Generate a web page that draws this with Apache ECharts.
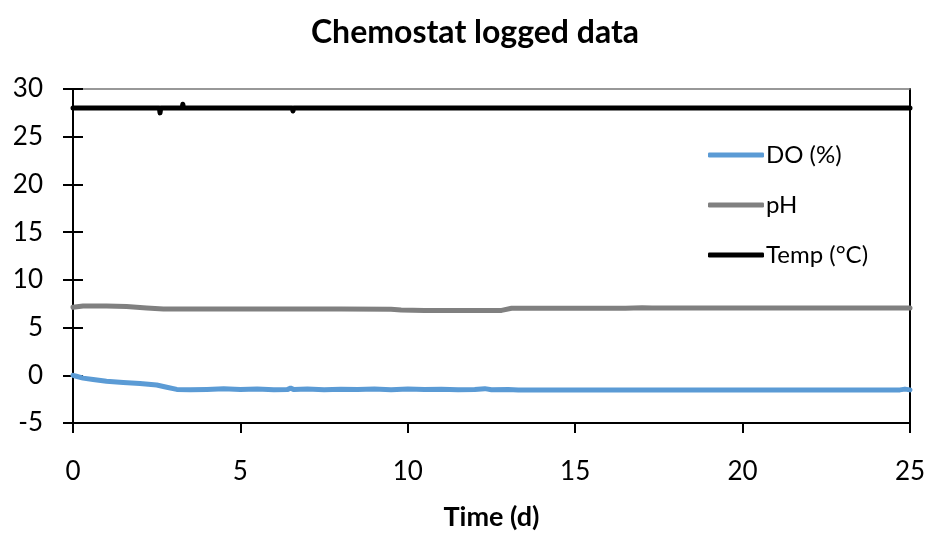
<!DOCTYPE html>
<html>
<head>
<meta charset="utf-8">
<script src="https://cdn.jsdelivr.net/npm/echarts@6/dist/echarts.min.js"></script>
<style>html,body{margin:0;padding:0;background:#fff}#c{width:932px;height:536px}</style>
</head>
<body>
<div id="c"></div>
<script>
var seriesNames = ['DO (%)', 'pH', 'Temp (°C)'];
var xTicks = [0, 5, 10, 15, 20, 25];
var yTicks = [-5, 0, 5, 10, 15, 20, 25, 30];

var doData = [
  [0, 0], [0.1, -0.1], [0.3, -0.3], [0.6, -0.45], [1.0, -0.62], [1.5, -0.75],
  [2.0, -0.85], [2.5, -1.02], [2.8, -1.25], [3.1, -1.48], [3.5, -1.52],
  [4.0, -1.48], [4.5, -1.42], [5.0, -1.5], [5.5, -1.45], [6.0, -1.52],
  [6.4, -1.5], [6.5, -1.35], [6.6, -1.5], [7.0, -1.45], [7.5, -1.52],
  [8.0, -1.47], [8.5, -1.5], [9.0, -1.45], [9.5, -1.52], [10.0, -1.45],
  [10.5, -1.5], [11.0, -1.47], [11.5, -1.52], [12.0, -1.48], [12.3, -1.4],
  [12.5, -1.52], [13.0, -1.48], [13.3, -1.53], [15, -1.53], [20, -1.53],
  [24.7, -1.53], [24.85, -1.45], [25, -1.53]
];
var phData = [
  [0, 7.12], [0.3, 7.25], [1.0, 7.25], [1.6, 7.2], [2.2, 7.05], [2.7, 6.95],
  [5, 6.95], [8, 6.95], [9.5, 6.93], [9.8, 6.85], [10.5, 6.8], [12.8, 6.8],
  [13.1, 7.02], [16.5, 7.02], [17.0, 7.08], [17.3, 7.05], [25, 7.05]
];
var tempData = [
  [0, 28.0], [1.49, 28.0], [1.5, 28.15], [1.51, 28.0], [2.58, 28.0],
  [2.6, 27.5], [2.62, 28.0], [3.26, 28.0], [3.28, 28.4], [3.3, 28.0],
  [6.55, 28.0], [6.57, 27.7], [6.59, 28.0], [25, 28.0]
];

var colors = ['#5B9BD5', '#808080', '#000000'];
var fontFam = 'Lato, "Open Sans", sans-serif';

var chart = echarts.init(document.getElementById('c'), null, {renderer: 'canvas'});
function mkSeries(name, data, color) {
  return {
    name: name, type: 'line', data: data, xAxisIndex: 0, yAxisIndex: 0,
    symbol: 'none', showSymbol: false, smooth: false,
    lineStyle: {color: color, width: 5, cap: 'round', join: 'round'},
    itemStyle: {color: color},
    z: 3
  };
}
var opt = {
  animation: false,
  backgroundColor: '#fff',
  title: {
    text: 'Chemostat logged data', left: 470, textAlign: 'center', top: 12,
    textStyle: {fontFamily: fontFam, fontWeight: 'bold', fontSize: 32, color: '#000'}
  },
  legend: {
    orient: 'vertical', left: 703, top: 138, itemWidth: 56, itemHeight: 5, itemGap: 26,
    icon: 'roundRect',
    data: seriesNames,
    textStyle: {fontFamily: fontFam, fontSize: 24, color: '#000', padding: [0, 0, 0, -3]}
  },
  grid: {left: 73, right: 22, top: 89, bottom: 106, containLabel: false},
  xAxis: [{
    type: 'value', position: 'bottom', min: xTicks[0], max: xTicks[xTicks.length - 1], interval: 5,
    axisLine: {show: true, onZero: false, lineStyle: {color: '#000', width: 2}},
    axisTick: {show: true, inside: false, length: 10, lineStyle: {color: '#000', width: 2}},
    axisLabel: {fontFamily: fontFam, fontSize: 26, color: '#000', margin: 36},
    splitLine: {show: false},
    name: 'Time (d)', nameLocation: 'middle', nameGap: 81,
    nameTextStyle: {fontFamily: fontFam, fontSize: 27, fontWeight: 'bold', color: '#000'}
  }, {
    type: 'value', position: 'top', min: 0, max: 25, interval: 5,
    axisLine: {show: true, onZero: false, lineStyle: {color: '#777', width: 1.5}},
    axisTick: {show: false}, axisLabel: {show: false}, splitLine: {show: false}
  }],
  yAxis: [{
    type: 'value', position: 'left', min: yTicks[0], max: yTicks[yTicks.length - 1], interval: 5,
    axisLine: {show: true, onZero: false, lineStyle: {color: '#000', width: 2}},
    axisTick: {show: true, inside: false, length: 10, lineStyle: {color: '#000', width: 2}},
    axisLabel: {fontFamily: fontFam, fontSize: 26, color: '#000', margin: 30},
    splitLine: {show: false}
  }, {
    type: 'value', position: 'left', min: -5, max: 30, interval: 5,
    axisLine: {show: false, onZero: false},
    axisTick: {show: true, inside: true, length: 10, lineStyle: {color: '#000', width: 2}},
    axisLabel: {show: false}, splitLine: {show: false}
  }, {
    type: 'value', position: 'right', min: -5, max: 30, interval: 5,
    axisLine: {show: true, onZero: false, lineStyle: {color: '#000', width: 2}},
    axisTick: {show: false}, axisLabel: {show: false}, splitLine: {show: false}
  }],
  series: [
    mkSeries(seriesNames[0], doData, colors[0]),
    mkSeries(seriesNames[1], phData, colors[1]),
    mkSeries(seriesNames[2], tempData, colors[2])
  ]
};
chart.setOption(opt);
</script>
</body>
</html>
